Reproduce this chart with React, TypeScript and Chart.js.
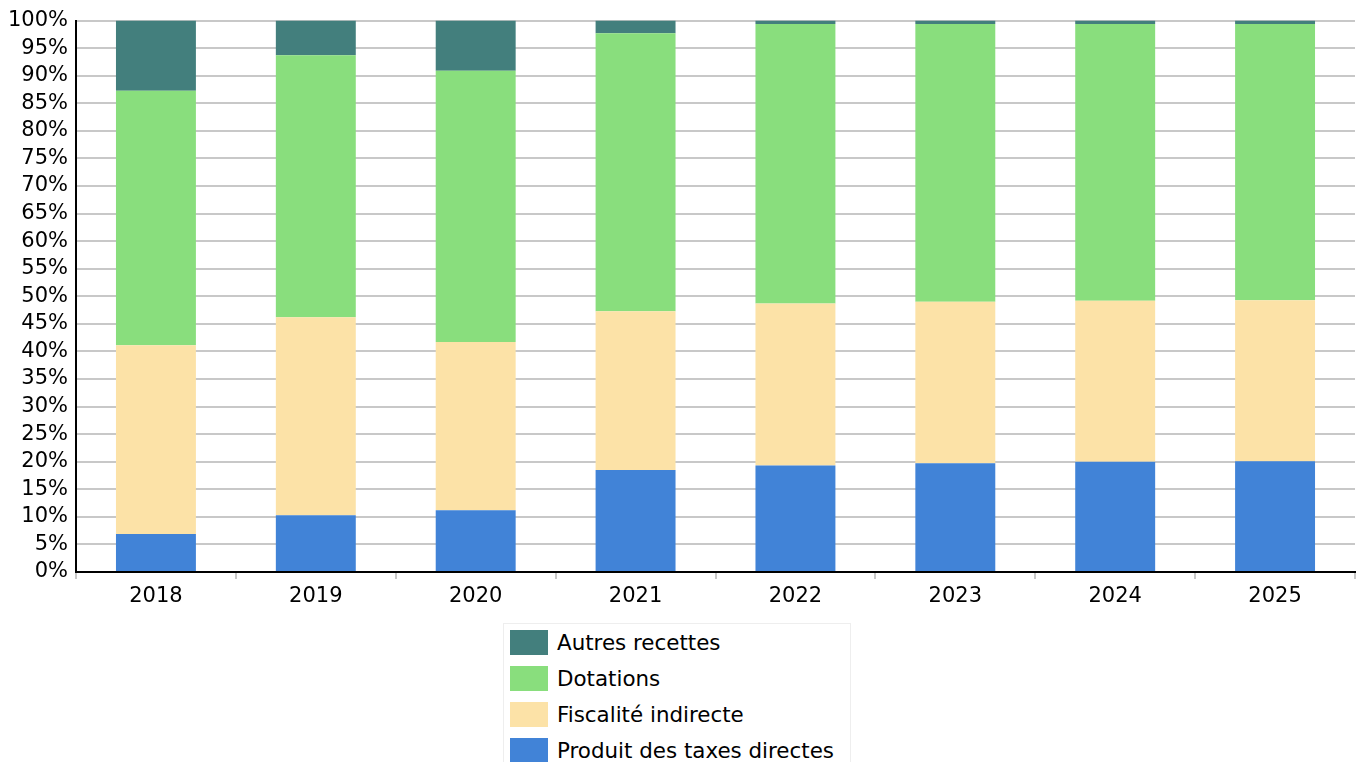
import React, { useEffect, useRef } from "react";
import { Chart, registerables } from "chart.js";

Chart.register(...registerables);

const categories = ["2018", "2019", "2020", "2021", "2022", "2023", "2024", "2025"];
const produitTaxesDirectes = [6.9, 10.3, 11.2, 18.5, 19.3, 19.7, 20.0, 20.1];
const fiscaliteIndirecte = [34.2, 35.9, 30.5, 28.8, 29.4, 29.3, 29.2, 29.2];
const dotations = [46.2, 47.5, 49.2, 50.4, 50.7, 50.4, 50.2, 50.1];
const autresRecettes = [12.7, 6.3, 9.1, 2.3, 0.6, 0.6, 0.6, 0.6];
const yTicks = [0, 5, 10, 15, 20, 25, 30, 35, 40, 45, 50, 55, 60, 65, 70, 75, 80, 85, 90, 95, 100];

const series = [
  { label: "Produit des taxes directes", data: produitTaxesDirectes, color: "#4183d7" },
  { label: "Fiscalité indirecte", data: fiscaliteIndirecte, color: "#fce2a7" },
  { label: "Dotations", data: dotations, color: "#89de7d" },
  { label: "Autres recettes", data: autresRecettes, color: "#437f7d" },
];

const FONT = "'DejaVu Sans', sans-serif";

export default function App() {
  const ref = useRef<HTMLCanvasElement | null>(null);

  useEffect(() => {
    document.body.style.margin = "0";
    const canvas = ref.current;
    if (!canvas) return;
    const chart = new Chart(canvas, {
      type: "bar",
      data: {
        labels: categories,
        datasets: series.map((s) => ({
          label: s.label,
          data: s.data,
          backgroundColor: s.color,
          borderWidth: 0,
          barPercentage: 0.5,
          categoryPercentage: 1,
          stack: "s",
        })),
      },
      options: {
        animation: false,
        responsive: false,
        devicePixelRatio: 1,
        layout: { padding: { left: 0, top: 20, right: 7, bottom: 159 } },
        plugins: { legend: { display: false }, tooltip: { enabled: false } },
        scales: {
          x: {
            stacked: true,
            grid: {
              drawOnChartArea: false,
              drawTicks: true,
              tickLength: 7,
              color: "#c8c8c8",
              lineWidth: 2,
              offset: true,
            },
            border: { color: "#000", width: 2 },
            ticks: { color: "#000", font: { family: FONT, size: 21 }, padding: 5, autoSkip: false, maxRotation: 0 },
            afterFit: (s: any) => {
              s.height = 31;
            },
          },
          y: {
            stacked: true,
            min: 0,
            max: 100,
            afterBuildTicks: (s: any) => {
              s.ticks = yTicks.map((v) => ({ value: v }));
            },
            grid: { color: "#c8c8c8", lineWidth: 2, drawTicks: false },
            border: { color: "#000", width: 2 },
            ticks: {
              color: "#000",
              font: { family: FONT, size: 21 },
              padding: 8,
              autoSkip: false,
              callback: (v: any) => v + "%",
            },
            afterFit: (s: any) => {
              s.width = 76;
            },
          },
        },
      },
    });
    return () => chart.destroy();
  }, []);

  const legendItems = [...series].reverse();

  return (
    <div style={{ position: "relative", width: 1362, height: 762, overflow: "hidden" }}>
      <canvas ref={ref} width={1362} height={762} style={{ display: "block" }} />
      <div
        style={{
          position: "absolute",
          left: 503,
          top: 623,
          width: 348,
          height: 150,
          border: "1px solid #eeeeee",
          boxSizing: "border-box",
          background: "#fff",
          fontFamily: FONT,
          fontSize: 21.4,
          color: "#000",
        }}
      >
        {legendItems.map((s, i) => (
          <div
            key={s.label}
            style={{ position: "absolute", left: 6, top: 5 + i * 36, height: 26, display: "flex", alignItems: "center" }}
          >
            <div style={{ width: 38, height: 25, background: s.color, marginRight: 9 }} />
            <span style={{ whiteSpace: "nowrap" }}>{s.label}</span>
          </div>
        ))}
      </div>
    </div>
  );
}
